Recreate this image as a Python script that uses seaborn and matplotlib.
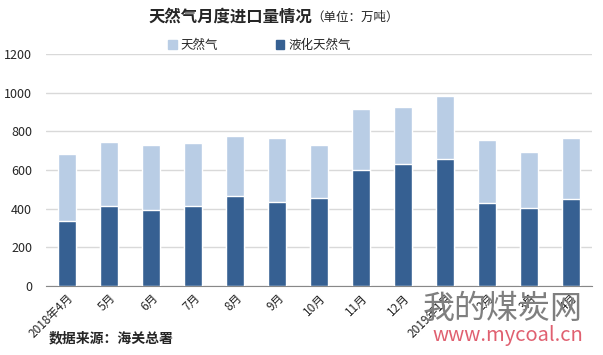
import matplotlib.pyplot as plt
import pandas as pd
import seaborn as sns
from matplotlib.patches import Patch

# 月份
months = ['2018年4月', '5月', '6月', '7月', '8月', '9月', '10月',
          '11月', '12月', '2019年1月', '2月', '3月', '4月']
# 天然气(总量, 万吨)
gas_total = [680, 742, 727, 737, 773, 763, 727, 913, 924, 981, 753, 690, 763]
# 液化天然气(万吨)
lng = [337, 415, 394, 415, 467, 436, 457, 597, 628, 654, 431, 405, 452]

light = '#B9CDE5'
dark = '#366092'

sns.set_style('white')
plt.rcParams['font.family'] = ['Noto Sans CJK SC', 'DejaVu Sans']
plt.rcParams['axes.unicode_minus'] = False

df = pd.DataFrame({'month': months, 'total': gas_total, 'lng': lng})

fig = plt.figure(figsize=(6.03, 3.55), dpi=100)
ax = fig.add_axes([0.0763, 0.1944, 0.906, 0.654])

sns.barplot(data=df, x='month', y='total', color=light, width=0.43,
            saturation=1, ax=ax, zorder=3)
sns.barplot(data=df, x='month', y='lng', color=dark, width=0.43,
            saturation=1, ax=ax, zorder=4)

ax.set_ylim(0, 1200)
ax.set_xlim(-0.5, len(months) - 0.5)
ax.set_yticks(range(0, 1201, 200))
ax.yaxis.grid(True, color='#D9D9D9', linewidth=1, zorder=0)
ax.set_axisbelow(True)
ax.set_xlabel('')
ax.set_ylabel('')
for s in ['left', 'right', 'top']:
    ax.spines[s].set_visible(False)
ax.spines['bottom'].set_color('#888888')

# 类别边界刻度
ax.set_xticks([i - 0.5 for i in range(len(months) + 1)], minor=True)
ax.tick_params(axis='x', which='minor', length=4, color='#888888', direction='out')
ax.tick_params(axis='x', which='major', length=0, pad=4)
ax.tick_params(axis='y', length=0, labelsize=9, pad=10)
ax.set_xticks(range(len(months)))
ax.set_xticklabels(months, rotation=45, ha='right', rotation_mode='anchor', fontsize=8.5)

# 标题
fig.text(0.517, 0.952, '天然气月度进口量情况', fontsize=11.8, fontweight='bold',
         ha='right', va='center')
fig.text(0.517, 0.952, '（单位：万吨）', fontsize=9, ha='left', va='center')

handles = [Patch(color=light), Patch(color=dark)]
fig.legend(handles, ['天然气', '液化天然气'], loc='center', bbox_to_anchor=(0.43, 0.872),
           ncol=2, frameon=False, fontsize=9, handlelength=0.7, handleheight=0.7,
           handletextpad=0.3, columnspacing=4.6)

fig.text(0.08, 0.048, '数据来源：海关总署', fontsize=10, fontweight='bold', va='center')

# 水印
fig.text(0.967, 0.13, '我的煤炭网', fontsize=23, color='#7F7F7F', ha='right', va='center')
fig.text(0.967, 0.054, 'www.mycoal.cn', fontsize=14.5, color='#E06070', ha='right', va='center')

fig.savefig('out.png', dpi=100)
